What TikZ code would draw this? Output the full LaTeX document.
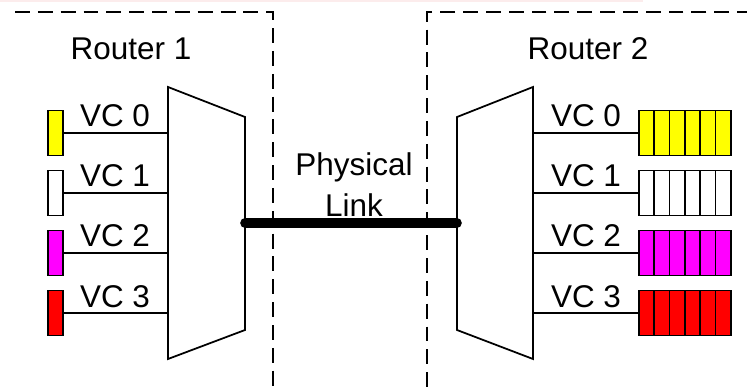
\documentclass[tikz,border=0pt]{standalone}
\usepackage{fontspec}
\setmainfont{Liberation Sans}
\usetikzlibrary{positioning}

\definecolor{vcyellow}{RGB}{255,255,0}
\definecolor{vcmagenta}{RGB}{255,0,255}
\definecolor{vcred}{RGB}{255,0,0}
\definecolor{stripe}{RGB}{252,236,236}

\begin{document}
\begin{tikzpicture}[x=0.02cm, y=-0.02cm,
    txt/.style = {font=\fontsize{17.9}{22.5}\selectfont, inner sep=0pt, anchor=base},
    region/.style = {draw, line width=1.1pt, dash pattern=on 8.5pt off 4.5pt},
    mux/.style = {draw, line width=1pt},
    wire/.style = {draw, line width=0.9pt},
    buf/.style = {draw, line width=0.9pt, minimum width=0.3cm, minimum height=0.9cm, inner sep=0pt},
    cell/.style = {draw, line width=0.9pt, minimum width=0.306cm, minimum height=0.9cm, inner sep=0pt}]
  \useasboundingbox (0,0) rectangle (747,388);
  \fill[stripe] (0,0) rectangle (643,2.5);

  % the two routers
  \draw[region] (15,12) -- (273,12) -- (273,395);
  \draw[region] (752,12) -- (427,12) -- (427,395);
  \node[txt] (r1) at (131,60) {Router 1};
  \node[txt] (r2) at (588,60) {Router 2};

  % multiplexers
  \draw[mux] (168,87) -- (245,117) -- (245,330) -- (168,359) -- cycle;
  \draw[mux] (533,87) -- (457,117) -- (457,330) -- (533,359) -- cycle;
  \coordinate (m1out) at (245,223);
  \coordinate (m2in) at (457,223);

  % virtual channels
  \foreach \i/\c in {0/vcyellow, 1/white, 2/vcmagenta, 3/vcred} {
    \pgfmathsetmacro{\y}{133+60*\i}
    \node[buf, fill=\c] (in\i) at (55.5,\y) {};
    \coordinate (m1in\i) at (168,\y);
    \coordinate (m2out\i) at (533,\y);
    \foreach \k in {0,...,5}
      \node[cell, fill=\c] (out\i-\k) at (646.6+15.3*\k,\y) {};
    \draw[wire] (in\i) -- (m1in\i);
    \draw[wire] (m2out\i) -- (out\i-0);
    \node[txt] (vl\i) at (115,\y-6) {VC \i};
    \node[txt] (vr\i) at (586,\y-6) {VC \i};
  }

  % link between the routers
  \draw[line width=5.5pt, line cap=round] (m1out) -- (m2in);
  \node[txt] (phys) at (354,175.5) {Physical};
  \node[txt, below=0pt of phys.base, anchor=base, yshift=-23.5pt] (link) {Link};
\end{tikzpicture}
\end{document}
